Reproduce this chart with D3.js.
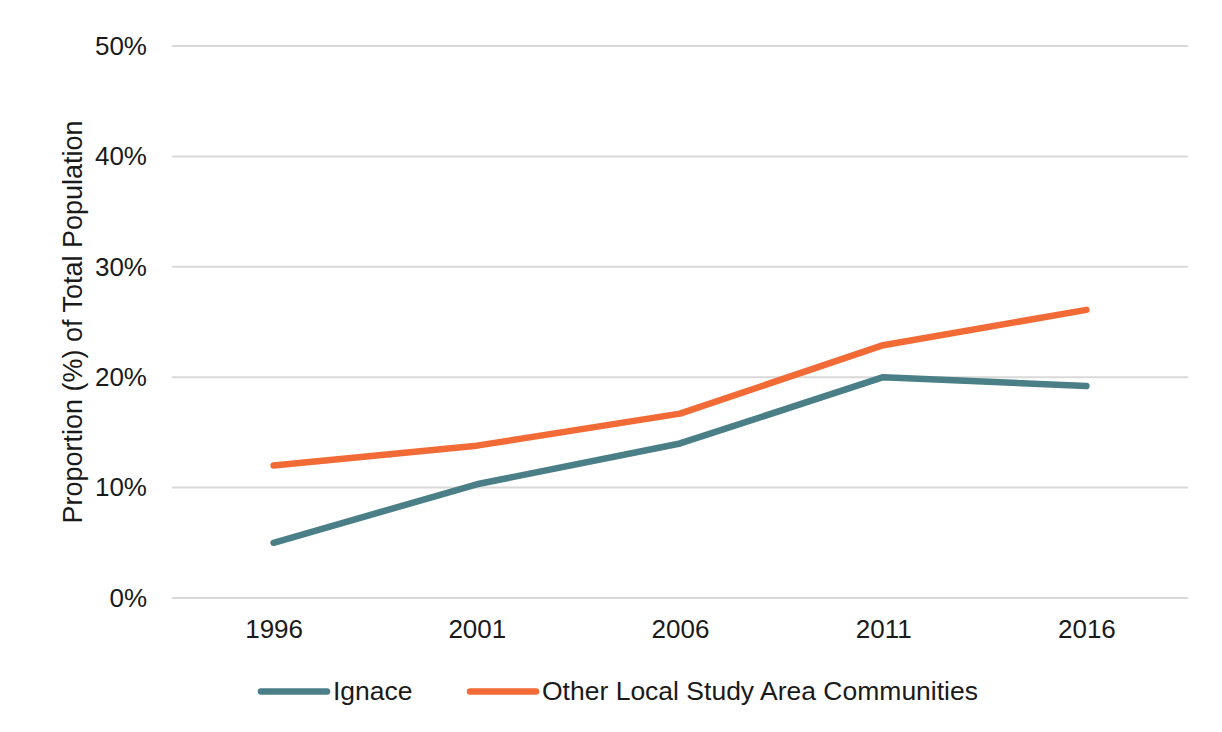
<!DOCTYPE html>
<html><head><meta charset="utf-8">
<script src="https://cdn.jsdelivr.net/npm/d3@7"></script>
<style>body{margin:0;background:#fff;}svg{display:block;font-family:"Liberation Sans",Arial,sans-serif;}</style>
</head><body>
<svg id="c" width="1222" height="732"></svg>
<script>
const years = ["1996","2001","2006","2011","2016"];
const ignace = [5.0, 10.3, 14.0, 20.0, 19.2];
const otherLSA = [12.0, 13.8, 16.7, 22.9, 26.1];
const yTicks = [0,10,20,30,40,50];
const seriesNames = ["Ignace","Other Local Study Area Communities"];
const colors = ["#4a7f87","#f26b36"];

(function(){
const svg = d3.select("#c");
const mLeft = 172, mRight = 1188, mTop = 46, mBottom = 598;
const x = d3.scalePoint().domain(years).range([mLeft,mRight]).padding(0.5);
const y = d3.scaleLinear().domain([0,50]).range([mBottom,mTop]);

svg.append("g").selectAll("line").data(yTicks).join("line")
  .attr("x1",mLeft).attr("x2",mRight).attr("y1",d=>y(d)).attr("y2",d=>y(d))
  .attr("stroke","#d9d9d9").attr("stroke-width",2);

const yAxis = svg.append("g").attr("transform",`translate(${mLeft},0)`)
  .call(d3.axisLeft(y).tickValues(yTicks).tickFormat(d=>d+"%").tickSize(0).tickPadding(25));
yAxis.select(".domain").remove();
yAxis.selectAll("text").attr("font-size",26).attr("fill","#1a1a1a").attr("font-family","Liberation Sans, Arial, sans-serif");

const xAxis = svg.append("g").attr("transform",`translate(0,${mBottom})`)
  .call(d3.axisBottom(x).tickSize(0).tickPadding(22));
xAxis.select(".domain").remove();
xAxis.selectAll("text").attr("font-size",26).attr("fill","#1a1a1a").attr("font-family","Liberation Sans, Arial, sans-serif");

svg.append("text").attr("transform",`translate(82,${322}) rotate(-90)`)
  .attr("text-anchor","middle").attr("font-size",27).attr("fill","#1a1a1a")
  .text("Proportion (%) of Total Population");

const line = d3.line().x((d,i)=>x(years[i])).y(d=>y(d));
[ignace, otherLSA].forEach((s,k)=>{
  svg.append("path").datum(s).attr("d",line).attr("fill","none")
    .attr("stroke",colors[k]).attr("stroke-width",6.5)
    .attr("stroke-linecap","round").attr("stroke-linejoin","round");
});

const legX = [261, 470];
seriesNames.forEach((n,k)=>{
  const g = svg.append("g").attr("transform",`translate(${legX[k]},691.5)`);
  g.append("line").attr("x1",0).attr("x2",66).attr("stroke",colors[k])
    .attr("stroke-width",6.5).attr("stroke-linecap","round");
  g.append("text").attr("x",72).attr("y",8.5).attr("font-size",26.5).attr("fill","#1a1a1a").text(n);
});
})();
</script>
</body></html>
